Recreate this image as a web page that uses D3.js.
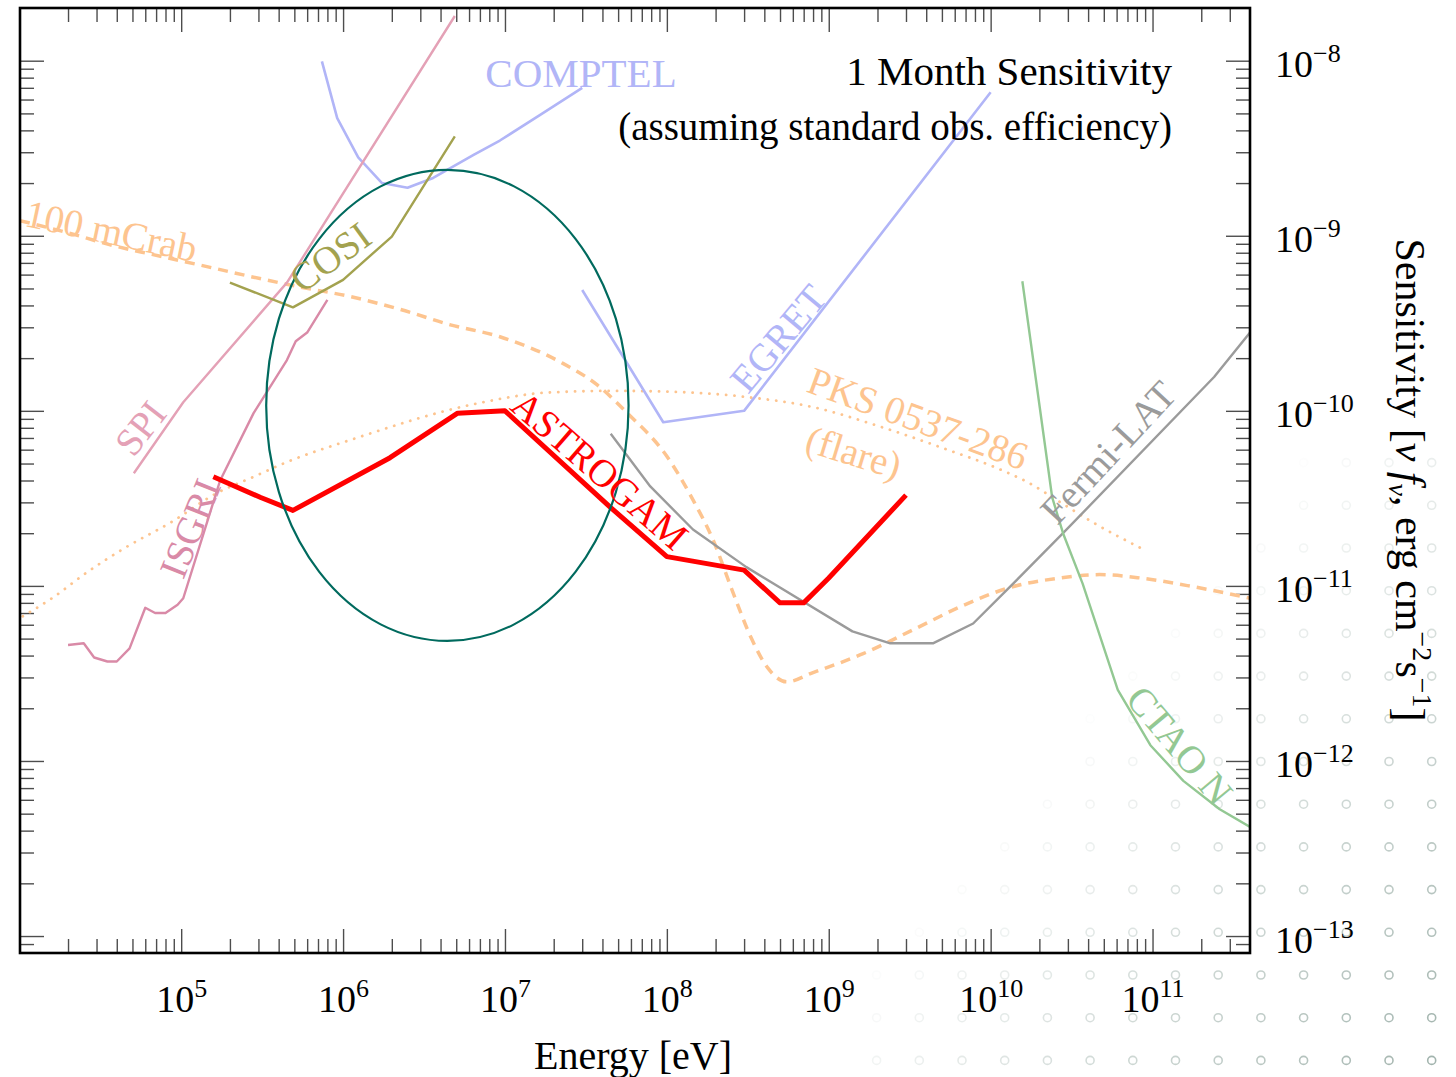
<!DOCTYPE html>
<html>
<head>
<meta charset="utf-8">
<script src="https://cdn.jsdelivr.net/npm/d3@7"></script>
<style>
  html, body { margin: 0; padding: 0; background: #fff; }
  svg { display: block; font-family: "Liberation Serif", "DejaVu Serif", serif; }
</style>
</head>
<body>
<div id="chart"></div>
<script>
const WIDTH = 1456;
const HEIGHT = 1077;
const PLOT = { left: 20, right: 1250, top: 8, bottom: 953 };

// axis limits (eV, erg cm^-2 s^-1)
const energyRange = [1.01e4, 4.0e11];
const sensRange = [8e-14, 2e-8];
const xTickExps = [5, 6, 7, 8, 9, 10, 11];
const yTickExps = [-8, -9, -10, -11, -12, -13];

// sensitivity curves: energy [eV] / nuFnu
const astrogamE = [1.58e5, 3.1e5, 4.9e5, 1.95e6, 5.1e6, 1.0e7, 4.5e7, 1.0e8, 3.0e8, 5.0e8, 7.0e8, 1.0e9, 3.0e9];
const astrogamS = [4.2e-11, 3.2e-11, 2.7e-11, 5.4e-11, 9.7e-11, 1.0e-10, 2.8e-11, 1.47e-11, 1.23e-11, 8.0e-12, 8.0e-12, 1.11e-11, 3.3e-11];

const fermiE = [4.5e7, 7.9e7, 1.45e8, 3.1e8, 1.4e9, 2.4e9, 4.4e9, 7.8e9, 1.32e10, 2.8e10, 2.4e11, 4.0e11];
const fermiS = [7.4e-11, 3.7e-11, 2.1e-11, 1.28e-11, 5.5e-12, 4.7e-12, 4.7e-12, 6.1e-12, 9.9e-12, 2.0e-11, 1.56e-10, 2.8e-10];

const ctaoE = [1.57e10, 2.4e10, 2.8e10, 3.7e10, 6.1e10, 9.7e10, 1.55e11, 2.6e11, 4.0e11];
const ctaoS = [5.5e-10, 3.2e-11, 2.0e-11, 1.03e-11, 2.55e-12, 1.23e-12, 7.7e-13, 5.3e-13, 4.2e-13];

const comptelE = [7.4e5, 9.2e5, 1.24e6, 1.74e6, 2.5e6, 3.6e6, 6.4e6, 9.3e6, 1.65e7, 3.0e7];
const comptelS = [9.9e-9, 4.7e-9, 2.8e-9, 2.0e-9, 1.88e-9, 2.14e-9, 2.9e-9, 3.5e-9, 4.9e-9, 7.0e-9];

const egretE = [3.0e7, 9.5e7, 3.0e8, 1.0e10];
const egretS = [4.9e-10, 8.6e-11, 1.0e-10, 6.6e-9];

const spiE = [5.1e4, 1.03e5, 4.5e5, 4.9e6];
const spiS = [4.4e-11, 1.12e-10, 5.4e-10, 1.8e-8];

const isgriE = [2.0e4, 2.5e4, 2.9e4, 3.5e4, 4.0e4, 4.8e4, 6.0e4, 6.9e4, 8.0e4, 9.5e4, 1.03e5, 1.74e5, 2.8e5, 4.5e5, 5.1e5, 6.0e5, 8.0e5];
const isgriS = [4.6e-12, 4.7e-12, 3.9e-12, 3.7e-12, 3.7e-12, 4.4e-12, 7.5e-12, 7.0e-12, 7.0e-12, 7.8e-12, 8.5e-12, 4.0e-11, 9.7e-11, 1.95e-10, 2.5e-10, 2.8e-10, 4.3e-10];

const cosiE = [2.0e5, 4.9e5, 1.0e6, 2.0e6, 4.9e6];
const cosiS = [5.4e-10, 3.9e-10, 5.6e-10, 9.9e-10, 3.7e-9];

// reference fluxes
const crabE = [1.01e4, 2.0e4, 3.6e4, 6.7e4, 1.31e5, 2.8e5, 5.4e5, 1.1e6, 2.25e6, 4.6e6, 9.3e6, 2.2e7, 3.7e7, 5.7e7, 1.0e8, 1.45e8, 1.93e8, 2.57e8, 3.3e8, 4.2e8, 5.5e8, 8.0e8, 1.63e9, 3.3e9, 6.5e9, 1.32e10, 2.7e10, 4.7e10, 8.4e10, 1.78e11, 4.0e11];
const crabS = [1.22e-9, 1.04e-9, 8.9e-10, 7.8e-10, 6.8e-10, 5.8e-10, 5.1e-10, 4.5e-10, 3.8e-10, 3.1e-10, 2.65e-10, 1.9e-10, 1.41e-10, 9.7e-11, 5.5e-11, 3.1e-11, 1.83e-11, 9.1e-12, 5.1e-12, 3.4e-12, 2.83e-12, 3.2e-12, 4.1e-12, 5.6e-12, 7.6e-12, 9.8e-12, 1.11e-11, 1.16e-11, 1.11e-11, 9.9e-12, 8.5e-12];

const pksE = [1.05e4, 1.62e4, 2.6e4, 4.6e4, 8.6e4, 1.67e5, 2.8e5, 4.5e5, 1.1e6, 7.0e6, 1.8e7, 4.7e7, 1.2e8, 3.1e8, 8.0e8, 2.1e9, 5.4e9, 1.04e10, 1.7e10, 2.7e10, 4.3e10, 8.4e10];
const pksS = [6.7e-12, 8.6e-12, 1.19e-11, 1.67e-11, 2.3e-11, 3.4e-11, 4.2e-11, 5.1e-11, 6.8e-11, 1.11e-10, 1.27e-10, 1.3e-10, 1.28e-10, 1.2e-10, 1.05e-10, 8.1e-11, 6.0e-11, 4.8e-11, 3.9e-11, 3.0e-11, 2.3e-11, 1.65e-11];

// highlighted region (energy and sensitivity extent)
const regionE = [3.35e5, 5.8e7];
const regionS = [4.85e-12, 2.38e-9];

// curve labels: text, energy, sensitivity, angle
const labelText = ["COMPTEL", "100 mCrab", "COSI", "SPI", "ISGRI", "ASTROGAM", "EGRET", "PKS 0537-286", "(flare)", "Fermi-LAT", "CTAO N"];
const labelE = [2.95e7, 3.7e4, 8.3e5, 5.57e4, 1.13e5, 3.87e7, 4.86e8, 3.56e9, 1.43e9, 5.3e10, 1.48e11];
const labelS = [8.5e-9, 1.07e-9, 7.57e-10, 7.98e-11, 2.14e-11, 4.6e-11, 2.6e-10, 9.1e-11, 5.82e-11, 5.82e-11, 1.23e-12];
const labelAngle = [0, 12, -36, -52, -68, 41, -50, 20, 17, -47, 50];

const COLORS = {
    astrogam: "#ff0000",
    fermi: "#9b9b9b",
    ctao: "#93c893",
    blue: "#b1b5f7",
    spi: "#e4a1b6",
    isgri: "#d98aa7",
    cosi: "#a3a24f",
    crab: "#fdc48f",
    region: "#006a5e"
};
const labelColor = [COLORS.blue, COLORS.crab, COLORS.cosi, COLORS.spi, COLORS.isgri, COLORS.astrogam,
    COLORS.blue, COLORS.crab, COLORS.crab, COLORS.fermi, COLORS.ctao];

const svg = d3.select("#chart")
    .append("svg")
        .attr("width", WIDTH)
        .attr("height", HEIGHT);

svg.append("rect").attr("width", WIDTH).attr("height", HEIGHT).attr("fill", "#fff");

// decorative ring pattern in the bottom right corner
const rings = svg.append("g");
for (let i = 0; i < 14; i++) {
    for (let j = 0; j < 15; j++) {
        const cx = 1431.7 - 42.7 * i;
        const cy = 1060.4 - 42.7 * j;
        const op = 0.9 - 0.00138 * (1431.7 - cx) - 0.00117 * (1060.4 - cy);
        if (op <= 0.02) continue;
        rings.append("circle")
            .attr("cx", cx).attr("cy", cy).attr("r", 4)
            .attr("fill", "none")
            .attr("stroke", "#98aca5")
            .attr("stroke-width", 1.6)
            .attr("opacity", op);
    }
}

const x = d3.scaleLog().domain(energyRange).range([PLOT.left, PLOT.right]);
const y = d3.scaleLog().domain(sensRange).range([PLOT.bottom, PLOT.top]);

// ticks
const majorE = xTickExps.map(p => Math.pow(10, p));
const majorS = yTickExps.map(p => Math.pow(10, p));
const minorE = [];
for (let p = 4; p <= 11; p++) for (let m = 2; m <= 9; m++) {
    const v = m * Math.pow(10, p);
    if (v > energyRange[0] && v < energyRange[1]) minorE.push(v);
}
const minorS = [];
for (let p = -14; p <= -8; p++) for (let m = 2; m <= 9; m++) {
    const v = m * Math.pow(10, p);
    if (v > sensRange[0] && v < sensRange[1]) minorS.push(v);
}

function tickLayer(axis, transform, values, size) {
    const g = svg.append("g")
        .attr("transform", transform)
        .call(axis.tickValues(values).tickSizeInner(-size).tickSizeOuter(0).tickFormat(""))
        .attr("font-family", null)
        .attr("font-size", null);
    g.select(".domain").remove();
    g.selectAll(".tick line").attr("stroke", "#4d4d4d").attr("stroke-width", 1.4);
    return g;
}

const MAJOR = 24, MINOR = 14;
tickLayer(d3.axisTop(x), `translate(0,${PLOT.top})`, minorE, MINOR);
tickLayer(d3.axisTop(x), `translate(0,${PLOT.top})`, majorE, MAJOR);
tickLayer(d3.axisBottom(x), `translate(0,${PLOT.bottom})`, minorE, MINOR);
const xMajor = tickLayer(d3.axisBottom(x), `translate(0,${PLOT.bottom})`, majorE, MAJOR);
tickLayer(d3.axisLeft(y), `translate(${PLOT.left},0)`, minorS, MINOR);
tickLayer(d3.axisLeft(y), `translate(${PLOT.left},0)`, majorS, MAJOR);
tickLayer(d3.axisRight(y), `translate(${PLOT.right},0)`, minorS, MINOR);
const yMajor = tickLayer(d3.axisRight(y), `translate(${PLOT.right},0)`, majorS, MAJOR);

function powerLabel(sel, exps) {
    sel.each(function(d, i) {
        const t = d3.select(this).text(null);
        t.append("tspan").text("10");
        t.append("tspan").attr("font-size", 26).attr("dy", -15)
            .text(String(exps[i]).replace("-", "\u2212"));
    });
}

xMajor.selectAll(".tick text")
    .attr("y", 59).attr("dy", 0)
    .attr("fill", "#000")
    .attr("font-size", 38)
    .attr("text-anchor", "middle")
    .call(powerLabel, xTickExps);

yMajor.selectAll(".tick text")
    .attr("x", 25).attr("dy", 0).attr("y", 16)
    .attr("fill", "#000")
    .attr("font-size", 38)
    .attr("text-anchor", "start")
    .call(powerLabel, yTickExps);

// plot area
svg.append("clipPath").attr("id", "plot-clip")
    .append("rect")
        .attr("x", PLOT.left).attr("y", PLOT.top)
        .attr("width", PLOT.right - PLOT.left).attr("height", PLOT.bottom - PLOT.top);

const plot = svg.append("g").attr("clip-path", "url(#plot-clip)");

const line = d3.line().x(d => x(d[0])).y(d => y(d[1]));
const smooth = d3.line().x(d => x(d[0])).y(d => y(d[1])).curve(d3.curveMonotoneX);
const zip = (e, s) => e.map((v, i) => [v, s[i]]);

const series = [
    { e: pksE, s: pksS, color: COLORS.crab, width: 2.8, dash: "0.1,8.3", cap: "round", gen: smooth },
    { e: crabE, s: crabS, color: COLORS.crab, width: 3.5, dash: "10,7", cap: "butt", gen: smooth },
    { e: comptelE, s: comptelS, color: COLORS.blue, width: 2.6 },
    { e: egretE, s: egretS, color: COLORS.blue, width: 2.6 },
    { e: spiE, s: spiS, color: COLORS.spi, width: 2.4 },
    { e: isgriE, s: isgriS, color: COLORS.isgri, width: 2.4 },
    { e: cosiE, s: cosiS, color: COLORS.cosi, width: 2.4 },
    { e: fermiE, s: fermiS, color: COLORS.fermi, width: 2.4 },
    { e: ctaoE, s: ctaoS, color: COLORS.ctao, width: 2.4 },
    { e: astrogamE, s: astrogamS, color: COLORS.astrogam, width: 5 }
];

plot.selectAll("path.curve")
    .data(series)
    .enter()
    .append("path")
        .attr("class", "curve")
        .attr("d", d => (d.gen || line)(zip(d.e, d.s)))
        .attr("fill", "none")
        .attr("stroke", d => d.color)
        .attr("stroke-width", d => d.width)
        .attr("stroke-dasharray", d => d.dash || null)
        .attr("stroke-linecap", d => d.cap || "butt")
        .attr("stroke-linejoin", "round");

// highlighted region
const rx0 = x(regionE[0]), rx1 = x(regionE[1]);
const ry0 = y(regionS[1]), ry1 = y(regionS[0]);
plot.append("ellipse")
    .attr("cx", (rx0 + rx1) / 2).attr("cy", (ry0 + ry1) / 2)
    .attr("rx", (rx1 - rx0) / 2).attr("ry", (ry1 - ry0) / 2)
    .attr("fill", "none")
    .attr("stroke", COLORS.region)
    .attr("stroke-width", 2.2);

// curve labels
plot.selectAll("text.label")
    .data(labelText)
    .enter()
    .append("text")
        .attr("class", "label")
        .attr("transform", (d, i) => `translate(${x(labelE[i])},${y(labelS[i])}) rotate(${labelAngle[i]})`)
        .attr("text-anchor", "middle")
        .attr("dy", "0.35em")
        .attr("font-size", (d, i) => i === 0 ? 41 : 39)
        .attr("fill", (d, i) => labelColor[i])
        .text(d => d);

// frame
svg.append("rect")
    .attr("x", PLOT.left).attr("y", PLOT.top)
    .attr("width", PLOT.right - PLOT.left).attr("height", PLOT.bottom - PLOT.top)
    .attr("fill", "none")
    .attr("stroke", "#000")
    .attr("stroke-width", 2.6);

// note in the upper right
svg.append("text")
    .attr("x", 1172).attr("y", 85)
    .attr("text-anchor", "end")
    .attr("font-size", 41)
    .text("1 Month Sensitivity");
svg.append("text")
    .attr("x", 1172).attr("y", 140)
    .attr("text-anchor", "end")
    .attr("font-size", 39)
    .text("(assuming standard obs. efficiency)");

// axis titles
svg.append("text")
    .attr("x", 633).attr("y", 1069)
    .attr("text-anchor", "middle")
    .attr("font-size", 40)
    .text("Energy [eV]");

const yTitle = svg.append("text")
    .attr("transform", "translate(1396,480) rotate(90)")
    .attr("text-anchor", "middle")
    .attr("font-size", 42);
yTitle.append("tspan").text("Sensitivity [");
yTitle.append("tspan").attr("font-style", "italic").text("\u03bd f");
yTitle.append("tspan").attr("font-style", "italic").attr("font-size", 28).attr("dy", 7).text("\u03bd");
yTitle.append("tspan").attr("dy", -7).text(", erg cm");
yTitle.append("tspan").attr("font-size", 28).attr("dy", -17).text("\u22122");
yTitle.append("tspan").attr("dy", 17).text("s");
yTitle.append("tspan").attr("font-size", 28).attr("dy", -17).text("\u22121");
yTitle.append("tspan").attr("dy", 17).text("]");
</script>
</body>
</html>
